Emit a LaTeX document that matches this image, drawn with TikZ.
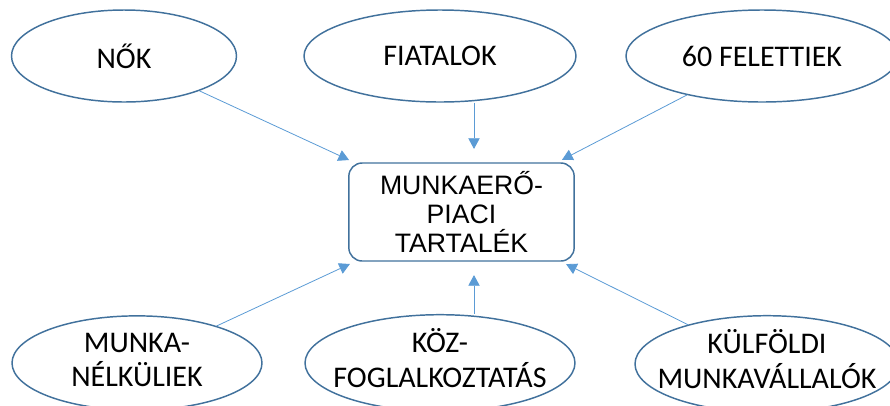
\documentclass[tikz,border=0pt]{standalone}
\usepackage{fontspec}
\setmainfont{Carlito}
\newfontfamily\boxfont{Liberation Sans}
\usetikzlibrary{shapes.geometric,arrows.meta}
\definecolor{ovalline}{HTML}{41719C}
\definecolor{feedline}{HTML}{5B9BD5}
% two lines, kept out of the ellipse size
\newcommand{\twolines}[1]{\makebox[0pt]{\begin{tabular}{@{}c@{}}#1\end{tabular}}}

\begin{document}
\begin{tikzpicture}[x=0.75pt,y=-0.75pt]
    \tikzset{oval/.style={draw=ovalline,line width=1.1pt,ellipse,inner sep=0pt,minimum height=69pt,font=\fontsize{22.5}{24}\selectfont},
      rounded/.style={draw=ovalline,line width=1.1pt,rectangle,rounded corners=10pt,minimum width=169pt,minimum height=73.5pt,align=center,font=\boxfont\fontsize{20}{21.75}\selectfont},
      feed/.style={color=feedline,line width=0.6pt,-{Triangle[width=8.5pt,length=8pt]},shorten >=1pt}}
    \useasboundingbox (0,0) rectangle (890,405);
    \node[rounded] (tartalek) at (461.5,212) {MUNKAERŐ-\\PIACI\\TARTALÉK};
    \node[oval,minimum width=168.75pt] (nok) at (124,56) {NŐK};
    \node[oval,minimum width=204pt] (fiatal) at (440,56) {FIATALOK};
    \node[oval,minimum width=204pt] (hatvan) at (762,56) {60 FELETTIEK};
    \node[oval,minimum width=187.5pt] (munkanelk) at (137,363) {\twolines{MUNKA-\\NÉLKÜLIEK}};
    \node[oval,minimum width=202.5pt] (kozfog) at (440,363) {\twolines{KÖZ-\\FOGLALKOZTATÁS}};
    \node[oval,minimum width=198pt] (kulfoldi) at (767,364) {\twolines{KÜLFÖLDI\\MUNKAVÁLLALÓK}};
    \coordinate (midx) at (474,0);
    \draw[feed,shorten >=4pt] (nok) -- (tartalek);
    \draw[feed,shorten >=4pt] (hatvan) -- (tartalek);
    \draw[feed,shorten >=4pt] (munkanelk) -- (tartalek);
    \draw[feed,shorten >=4pt] (kulfoldi) -- (tartalek);
    \draw[feed,shorten >=10pt] (fiatal.south -| midx) -- (tartalek.north -| midx);
    \draw[feed,shorten >=10pt] (kozfog.north -| midx) -- (tartalek.south -| midx);
  \end{tikzpicture}
\end{document}
